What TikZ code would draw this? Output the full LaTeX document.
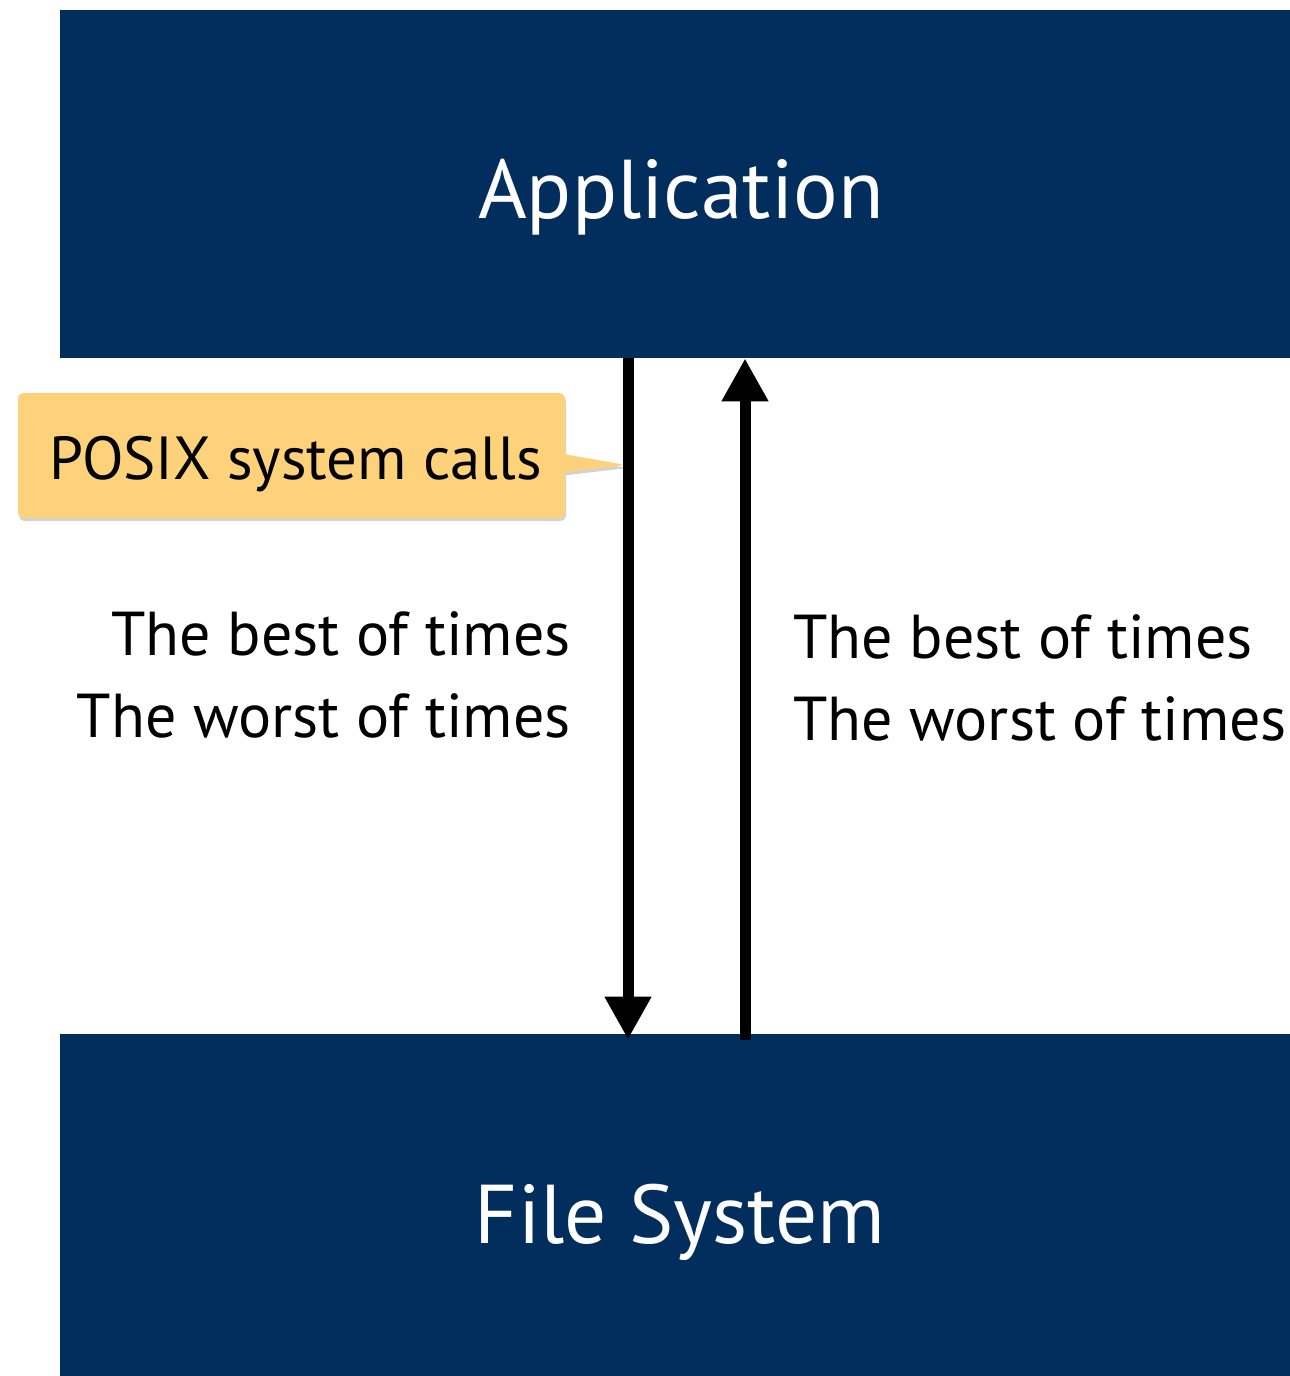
\documentclass[tikz,border=0pt]{standalone}
\usepackage{fontspec}
\setmainfont{PT Sans}
\usetikzlibrary{arrows.meta,shapes.callouts,shadows}
\definecolor{navy}{RGB}{2,46,94}
\definecolor{callfill}{RGB}{253,210,122}
\begin{document}
\begin{tikzpicture}[x=0.5pt,y=-0.5pt,
  layer/.style={fill=navy,draw=none,minimum width=615pt,inner sep=0pt,text=white,font=\fontsize{41.7}{50}\selectfont,text depth=0pt},
  arr/.style={line width=5.5pt,-{Triangle[width=22pt,length=21.5pt]}},
  lbl/.style={font=\fontsize{31}{37}\selectfont,inner sep=0pt}]
\useasboundingbox (0,0) rectangle (1290,1376);
\node[layer,minimum height=174pt,text height=34pt] (app) at (675,184) {\hspace*{6pt}Application};
\node[layer,minimum height=171pt,text height=38pt] (fs) at (675,1205) {\hspace*{5pt}File System};
\coordinate (dx) at (628,0);
\coordinate (ux) at (745,0);
\draw[arr,shorten >=-3pt] (app.south -| dx) -- (fs.north -| dx);
\draw[arr,shorten <=-3pt] (fs.north -| ux) -- (app.south -| ux);
\coordinate (tip) at (626,465);
\node[rectangle callout,callout absolute pointer={(tip)},callout pointer width=9pt,
  fill=callfill,rounded corners=3pt,minimum width=273.5pt,minimum height=62.5pt,
  drop shadow={shadow xshift=0.5pt,shadow yshift=-1.5pt,opacity=0.25,fill=black!70},
  font=\fontsize{30.4}{36}\selectfont,inner sep=0pt,text height=23.5pt,text depth=0pt] (posix) at (291.5,455.5) {\hspace*{4pt}POSIX system calls};
\node[lbl,anchor=base east,align=right] (l1) at (571,655) {The best of times};
\node[lbl,anchor=base east,align=right] (l2) at (571,737) {The worst of times};
\node[lbl,anchor=base west,align=left] (r1) at (793,658) {The best of times};
\node[lbl,anchor=base west,align=left] (r2) at (793,740) {The worst of times};
\end{tikzpicture}
\end{document}
